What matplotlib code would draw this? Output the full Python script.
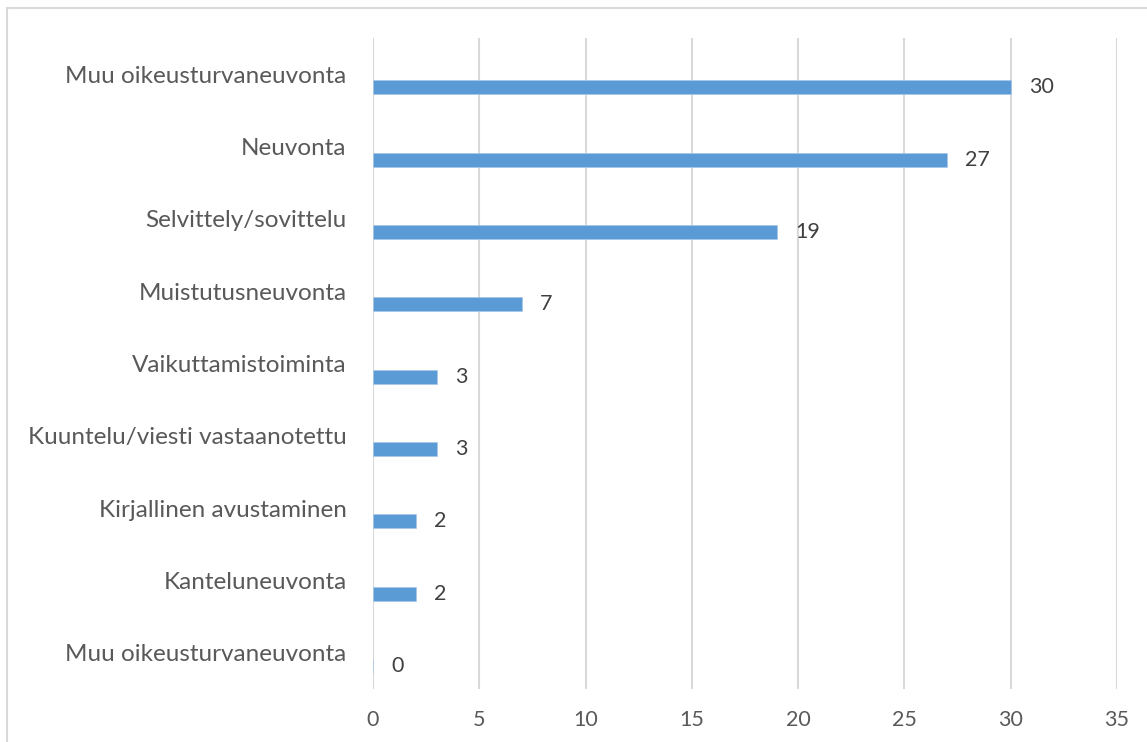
import matplotlib
matplotlib.use("Agg")
import matplotlib.pyplot as plt
from matplotlib.patches import Rectangle

categories = ["Muu oikeusturvaneuvonta", "Neuvonta", "Selvittely/sovittelu",
              "Muistutusneuvonta", "Vaikuttamistoiminta",
              "Kuuntelu/viesti vastaanotettu", "Kirjallinen avustaminen",
              "Kanteluneuvonta", "Muu oikeusturvaneuvonta"]
values = [30, 27, 19, 7, 3, 3, 2, 2, 0]
xticks = [0, 5, 10, 15, 20, 25, 30, 35]

plt.rcParams['font.family'] = ['Lato', 'DejaVu Sans']
W, H = 1147, 742
fig = plt.figure(figsize=(W/100, H/100), dpi=100)
ax = fig.add_axes([373/W, 1-689/H, (1117-373)/W, (689-38)/H])

text_color = '#595959'
grid_color = '#d9d9d9'
bar_color = '#5b9bd5'

pos = list(range(len(categories)))
offset = 0.18
ax.barh([p + offset for p in pos], values, height=0.194, color=bar_color,
        edgecolor='#a9c6e8', linewidth=0.5, zorder=3)
ax.set_ylim(len(categories) - 0.5, -0.5)
ax.set_xlim(0, 35)
ax.set_xticks(xticks)
ax.set_xticklabels([str(t) for t in xticks], color=text_color, fontsize=15.5)
ax.set_yticks(pos)
ax.set_yticklabels(categories, color=text_color, fontsize=17.5)
ax.tick_params(axis='y', length=0, pad=19)
ax.tick_params(axis='x', length=0, pad=15)
ax.grid(axis='x', color=grid_color, linewidth=1.5, zorder=0)
for s in ax.spines.values():
    s.set_visible(False)

for p, v in zip(pos, values):
    ax.annotate(str(v), xy=(v, p + offset), xytext=(13, 0), textcoords='offset points',
                ha='left', va='center', color='#404040', fontsize=15.5)

fig.patches.append(Rectangle((7/W, -0.1), 1.2, 1 - 8/H + 0.1, transform=fig.transFigure,
                             fill=False, edgecolor=grid_color, linewidth=1.5))

fig.savefig("out.png", dpi=100)
